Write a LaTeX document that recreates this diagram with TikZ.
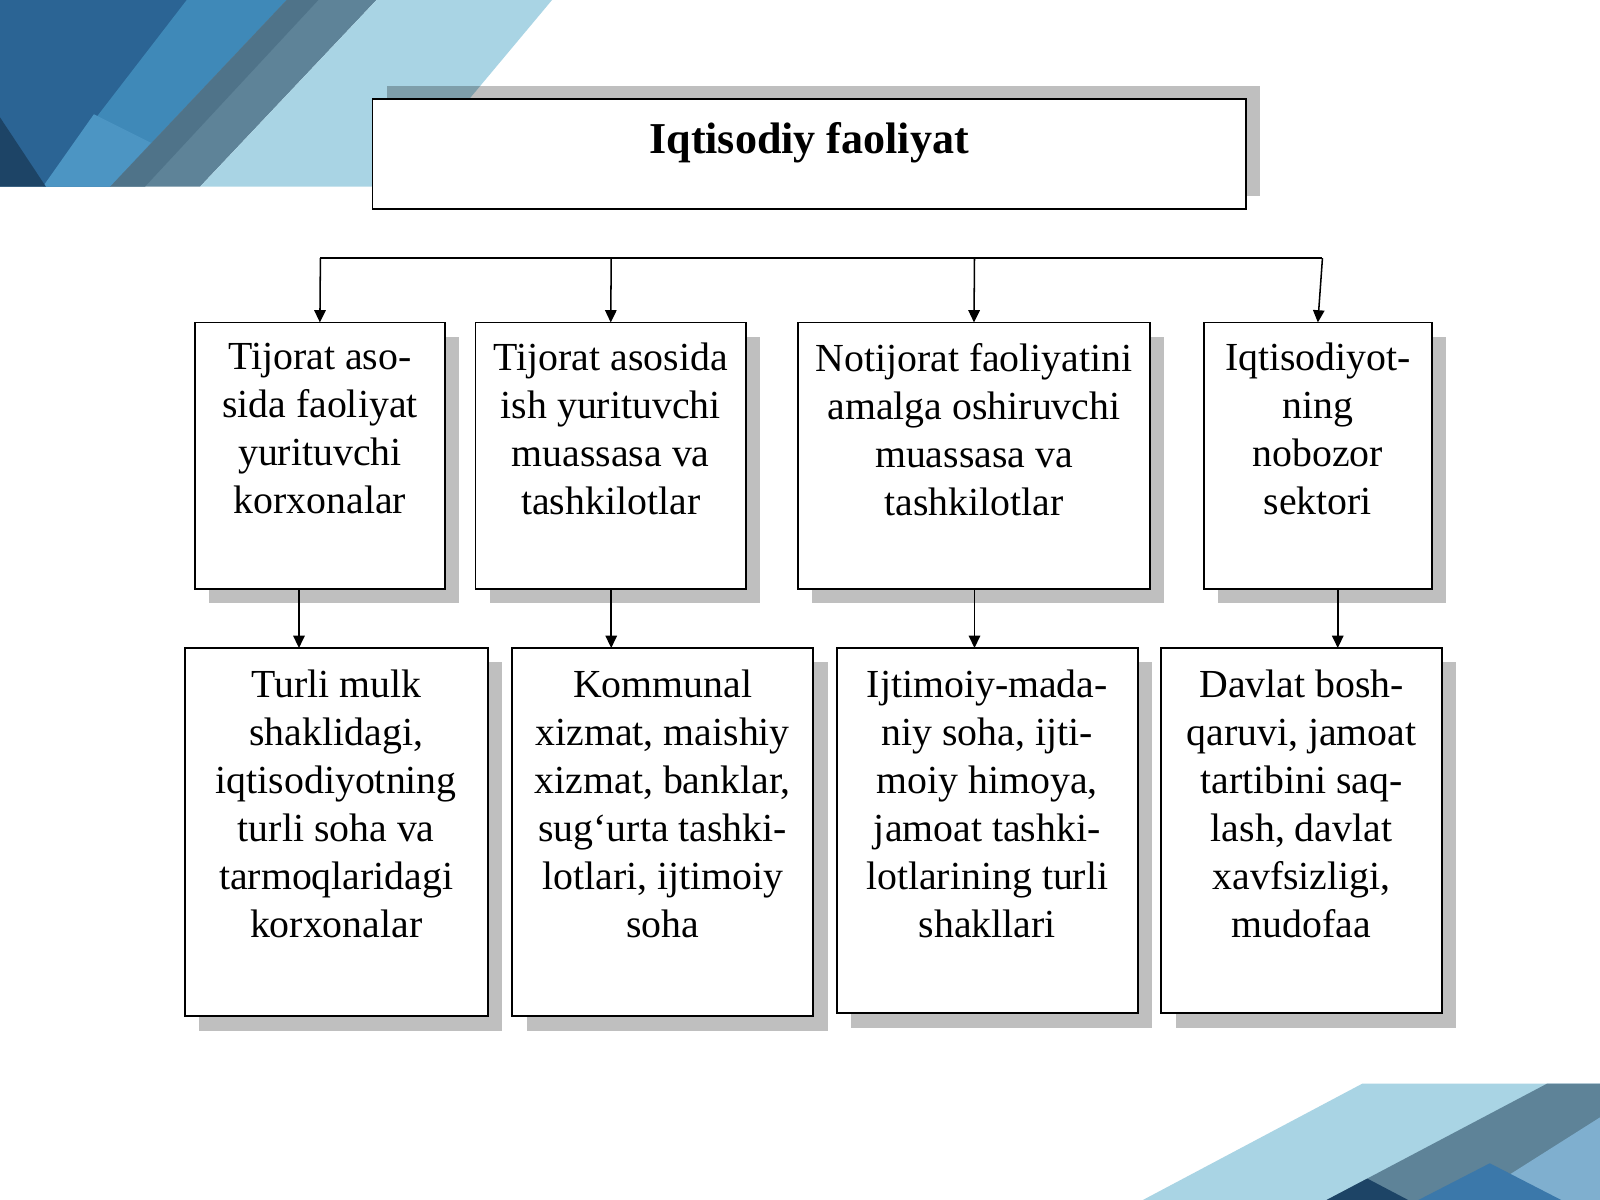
\documentclass[tikz,border=0pt]{standalone}
\usepackage{fontspec}
\setmainfont{Liberation Serif}
\usetikzlibrary{arrows.meta,shadows}
\definecolor{dkblue}{HTML}{2B6494}
\definecolor{mdblue}{HTML}{3F89B8}
\definecolor{ltblue2}{HTML}{4C95C3}
\definecolor{navy}{HTML}{1D4466}
\definecolor{grayblue}{HTML}{5E8398}
\definecolor{grayblue2}{HTML}{4F7389}
\definecolor{skyblue}{HTML}{A9D4E4}
\definecolor{steel}{HTML}{7FAFCF}
\definecolor{midblue}{HTML}{3B78AA}
\tikzset{
  boxshape/.style={draw=black, line width=0.9pt, fill=white, inner sep=0pt, outer sep=0pt},
  shdown/.style={drop shadow={shadow xshift=7pt, shadow yshift=-7pt, opacity=0.25, fill=black}},
  shup/.style={drop shadow={shadow xshift=7pt, shadow yshift=6.5pt, opacity=0.25, fill=black}},
  boxtext/.style={align=center, inner sep=0pt, font=\fontsize{19.5pt}{23.5pt}\selectfont},
  titletext/.style={inner sep=0pt, font=\fontsize{21.6pt}{26pt}\selectfont\bfseries},
  arr/.style={line width=0.75pt, -{Triangle[length=6pt,width=5.6pt]}},
  bar/.style={line width=0.75pt}
}
\begin{document}
\begin{tikzpicture}[x=0.5pt,y=-0.5pt]
\useasboundingbox (0,0) rectangle (1568,1176);
\fill[white] (0,0) rectangle (1568,1176);
% top-left decoration
\fill[dkblue] (0,0) -- (281,0) -- (108,183) -- (0,183) -- cycle;
\fill[mdblue] (183,0) -- (281,0) -- (108,183) -- (42,183) -- cycle;
\fill[ltblue2] (42,183) -- (108,183) -- (148,140) -- (92,112) -- cycle;
\fill[navy] (0,115) -- (45,183) -- (0,183) -- cycle;
\fill[grayblue] (281,0) -- (369,0) -- (196,183) -- (108,183) -- cycle;
\fill[grayblue2] (281,0) -- (312,0) -- (142,183) -- (108,183) -- cycle;
\fill[skyblue] (369,0) -- (541,0) -- (388,183) -- (196,183) -- cycle;
% bottom-right decoration
\fill[skyblue] (1120,1176) -- (1335,1062) -- (1568,1062) -- (1568,1176) -- cycle;
\fill[grayblue] (1300,1176) -- (1516,1062) -- (1568,1062) -- (1568,1176) -- cycle;
\fill[steel] (1440,1176) -- (1568,1095) -- (1568,1176) -- cycle;
\fill[midblue] (1390,1176) -- (1460,1140) -- (1530,1176) -- cycle;
\fill[navy] (1300,1176) -- (1340,1155) -- (1380,1176) -- cycle;
% title
\node[boxshape, shup, minimum width=428pt, minimum height=54pt] (T) at (793,151) {};
\node[titletext, anchor=base] (Tt) at (793,150) {Iqtisodiy faoliyat};
% row 1
\node[boxshape, shdown, minimum width=122.5pt, minimum height=130.5pt] (a1) at (313.5,446.5) {};
\node[boxshape, shdown, minimum width=132.5pt, minimum height=130.5pt] (a2) at (598.5,446.5) {};
\node[boxshape, shdown, minimum width=172.5pt, minimum height=130.5pt] (a3) at (954.5,446.5) {};
\node[boxshape, shdown, minimum width=111.5pt, minimum height=130.5pt] (a4) at (1291.5,446.5) {};
\node[boxtext, anchor=north] (ta1) at ([yshift=-10pt]a1.north) {Tijorat aso-\\sida faoliyat\\yurituvchi\\korxonalar};
\node[boxtext, anchor=north] (ta2) at ([yshift=-10pt]a2.north) {Tijorat asosida\\ish yurituvchi\\muassasa va\\tashkilotlar};
\node[boxtext, anchor=north] (ta3) at ([yshift=-10pt]a3.north) {Notijorat faoliyatini\\amalga oshiruvchi\\muassasa va\\tashkilotlar};
\node[boxtext, anchor=north] (ta4) at ([yshift=-10pt]a4.north) {Iqtisodiyot-\\ning\\nobozor\\sektori};
% row 2
\node[boxshape, shdown, minimum width=148.5pt, minimum height=180.5pt] (b1) at (329.5,815.5) {};
\node[boxshape, shdown, minimum width=147.5pt, minimum height=180.5pt] (b2) at (649.5,815.5) {};
\node[boxshape, shdown, minimum width=147.5pt, minimum height=179pt] (b3) at (967.5,814) {};
\node[boxshape, shdown, minimum width=137.5pt, minimum height=179pt] (b4) at (1275.5,814) {};
\node[boxtext, anchor=north] (tb1) at ([yshift=-10.5pt]b1.north) {Turli mulk\\shaklidagi,\\iqtisodiyotning\\turli soha va\\tarmoqlaridagi\\korxonalar};
\node[boxtext, anchor=north] (tb2) at ([yshift=-10.5pt]b2.north) {Kommunal\\xizmat, maishiy\\xizmat, banklar,\\sug‘urta tashki-\\lotlari, ijtimoiy\\soha};
\node[boxtext, anchor=north] (tb3) at ([yshift=-10.5pt]b3.north) {Ijtimoiy-mada-\\niy soha, ijti-\\moiy himoya,\\jamoat tashki-\\lotlarining turli\\shakllari};
\node[boxtext, anchor=north] (tb4) at ([yshift=-10.5pt]b4.north) {Davlat bosh-\\qaruvi, jamoat\\tartibini saq-\\lash, davlat\\xavfsizligi,\\mudofaa};
% connectors
\coordinate (p1) at (314,253);
\coordinate (p2) at (599,253);
\coordinate (p3) at (955,253);
\coordinate (p4) at (1296,253);
\draw[bar] (p1) -- (p4);
\draw[arr] (p1) -- (a1.north);
\draw[arr] (p2) -- (a2.north);
\draw[arr] (p3) -- (a3.north);
\draw[arr] (p4) -- (a4.north);
\coordinate (c1) at (293,0);
\coordinate (c2) at (599,0);
\coordinate (c3) at (955,0);
\coordinate (c4) at (1311,0);
\draw[arr] (a1.south -| c1) -- (b1.north -| c1);
\draw[arr] (a2.south -| c2) -- (b2.north -| c2);
\draw[arr] (a3.south -| c3) -- (b3.north -| c3);
\draw[arr] (a4.south -| c4) -- (b4.north -| c4);
\end{tikzpicture}
\end{document}
